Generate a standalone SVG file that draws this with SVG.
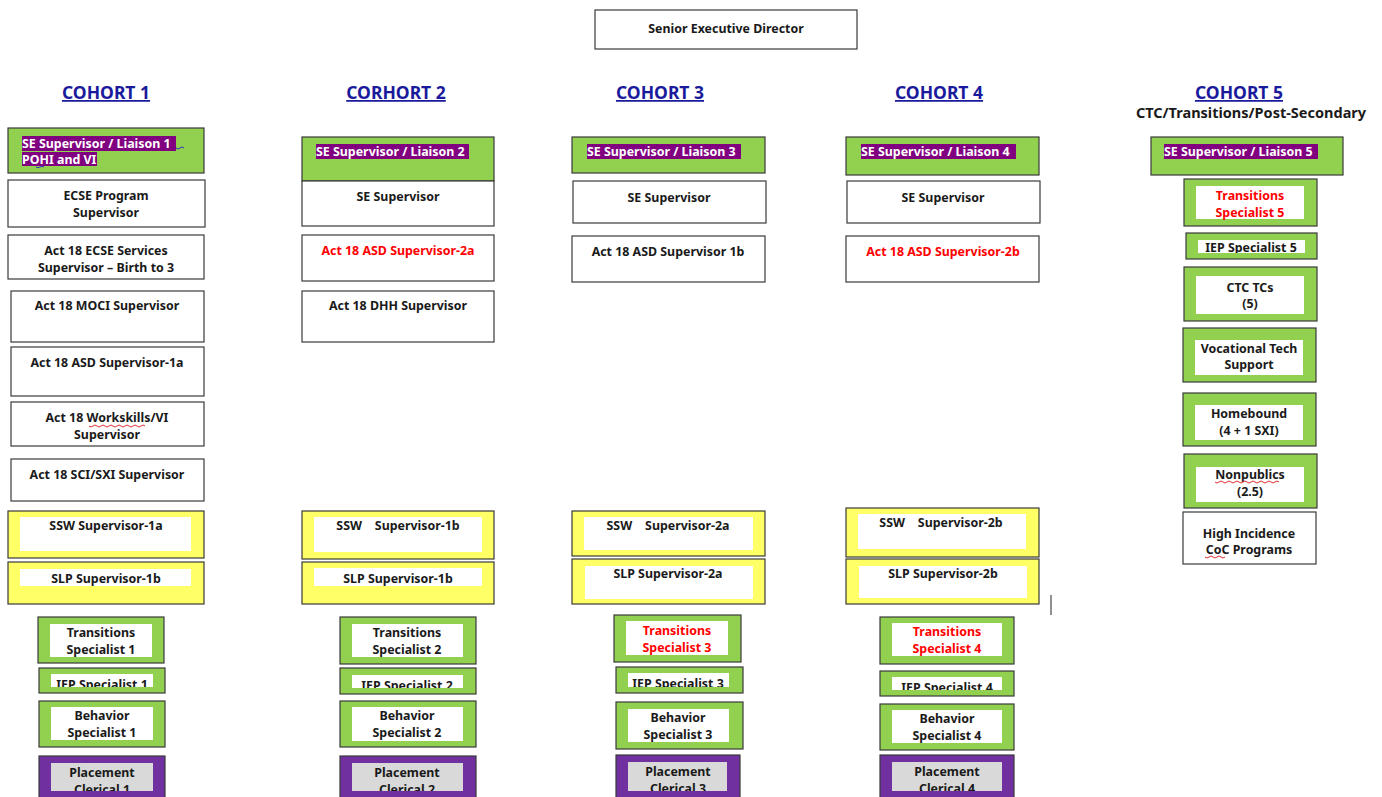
<svg xmlns="http://www.w3.org/2000/svg" width="1382" height="797" viewBox="0 0 1382 797">
<style>
text{font-family:"Noto Sans","Open Sans","Liberation Sans",sans-serif;font-weight:bold;font-size:12.4px;fill:#1a1a1a}
.c{text-anchor:middle}
.red{fill:#ff0000}
.hl{fill:#ffffff}
.hd{font-size:17.5px;fill:#1a1a9c;text-decoration:underline}
.sub{font-size:14.5px}
.w{fill:#ffffff;stroke:#3a3a3a;stroke-width:1.2}
.g{fill:#92d050;stroke:#3a3a3a;stroke-width:1.2}
.y{fill:#ffff66;stroke:#3a3a3a;stroke-width:1.2}
.p{fill:#7030a0;stroke:#3a3a3a;stroke-width:1.2}
.in{fill:#ffffff}
.gr{fill:#d9d9d9}
.pu{fill:#800080}
.sq{fill:none;stroke-width:1}
</style>
<defs>
<clipPath id="k1"><rect x="51" y="674" width="102" height="13"/></clipPath>
<clipPath id="k2"><rect x="352" y="675" width="111" height="13"/></clipPath>
<clipPath id="k3"><rect x="628" y="673" width="101" height="14"/></clipPath>
<clipPath id="k4"><rect x="892" y="677" width="110" height="13"/></clipPath>
<clipPath id="k5"><rect x="1198" y="240" width="107" height="13"/></clipPath>
<clipPath id="m1"><rect x="51" y="763" width="102" height="28"/></clipPath>
<clipPath id="m2"><rect x="352" y="763" width="111" height="28"/></clipPath>
<clipPath id="m3"><rect x="628" y="762" width="99" height="29"/></clipPath>
<clipPath id="m4"><rect x="892" y="762" width="110" height="29"/></clipPath>
</defs>
<rect width="1382" height="797" fill="#ffffff"/>

<g id="director">
<rect class="w" x="595" y="10" width="262" height="39"/>
<text class="c" x="726" y="33">Senior Executive Director</text>
</g>

<g id="headers">
<text class="hd c" x="106" y="99">COHORT 1</text>
<text class="hd c" x="396" y="99">CORHORT 2</text>
<text class="hd c" x="660" y="99">COHORT 3</text>
<text class="hd c" x="939" y="99">COHORT 4</text>
<text class="hd c" x="1239" y="99">COHORT 5</text>
<text class="sub c" x="1251" y="118">CTC/Transitions/Post-Secondary</text>
</g>

<!-- Cohort 1 -->
<g id="c1-liaison">
<rect class="g" x="8" y="128" width="196" height="45"/>
<rect class="pu" x="22" y="136" width="154" height="15"/>
<rect class="pu" x="22" y="152" width="75" height="14"/>
<text class="hl" x="22" y="148">SE Supervisor / Liaison 1</text>
<text class="hl" x="22" y="164">POHI and VI</text>
<path class="sq" stroke="#3030c0" d="M176 148 q2 2 4 0 q2 -2 4 0"/>
<path class="sq" stroke="#3030c0" d="M36 167 q2 1.5 4 0 q2 -1.5 4 0"/>
</g>
<g id="c1-ecse">
<rect class="w" x="8" y="180" width="197" height="47"/>
<text class="c" x="106" y="200">ECSE Program</text>
<text class="c" x="106" y="217">Supervisor</text>
</g>
<g id="c1-act18-ecse">
<rect class="w" x="8" y="235" width="196" height="44"/>
<text class="c" x="106" y="255">Act 18 ECSE Services</text>
<text class="c" x="106" y="272">Supervisor – Birth to 3</text>
</g>
<g id="c1-moci">
<rect class="w" x="11" y="291" width="193" height="51"/>
<text class="c" x="107" y="310">Act 18 MOCI Supervisor</text>
</g>
<g id="c1-asd">
<rect class="w" x="11" y="347" width="193" height="49"/>
<text class="c" x="107" y="367">Act 18 ASD Supervisor-1a</text>
</g>
<g id="c1-workskills">
<rect class="w" x="11" y="402" width="193" height="44"/>
<text class="c" x="107" y="422">Act 18 Workskills/VI</text>
<text class="c" x="107" y="439">Supervisor</text>
<path class="sq" stroke="#e03030" d="M89 426 q2 2 4 0 q2 -2 4 0 q2 2 4 0 q2 -2 4 0 q2 2 4 0 q2 -2 4 0 q2 2 4 0 q2 -2 4 0 q2 2 4 0 q2 -2 4 0 q2 2 4 0 q2 -2 4 0 q2 2 4 0 q2 -2 4 0"/>
</g>
<g id="c1-sci">
<rect class="w" x="11" y="459" width="193" height="42"/>
<text class="c" x="107" y="479">Act 18 SCI/SXI Supervisor</text>
</g>
<g id="c1-ssw">
<rect class="y" x="8" y="511" width="196" height="47"/>
<rect class="in" x="20" y="517" width="171" height="34"/>
<text class="c" x="106" y="530">SSW Supervisor-1a</text>
</g>
<g id="c1-slp">
<rect class="y" x="8" y="562" width="196" height="42"/>
<rect class="in" x="20" y="569" width="171" height="17"/>
<text class="c" x="106" y="583">SLP Supervisor-1b</text>
</g>
<g id="c1-trans">
<rect class="g" x="38" y="617" width="126" height="46"/>
<rect class="in" x="50" y="624" width="102" height="33"/>
<text class="c" x="101" y="637">Transitions</text>
<text class="c" x="101" y="654">Specialist 1</text>
</g>
<g id="c1-iep">
<rect class="g" x="39" y="668" width="126" height="25"/>
<rect class="in" x="51" y="674" width="102" height="13"/>
<text class="c" x="102" y="689" clip-path="url(#k1)">IEP Specialist 1</text>
</g>
<g id="c1-beh">
<rect class="g" x="39" y="701" width="126" height="46"/>
<rect class="in" x="51" y="707" width="102" height="33"/>
<text class="c" x="102" y="720">Behavior</text>
<text class="c" x="102" y="737">Specialist 1</text>
</g>
<g id="c1-place">
<rect class="p" x="39" y="756" width="126" height="46"/>
<rect class="gr" x="51" y="763" width="102" height="28"/>
<text class="c" x="102" y="777" clip-path="url(#m1)">Placement</text>
<text class="c" x="102" y="794" clip-path="url(#m1)">Clerical 1</text>
</g>

<!-- Cohort 2 -->
<g id="c2-liaison">
<rect class="g" x="302" y="137" width="192" height="44"/>
<rect class="pu" x="316" y="144" width="153" height="15"/>
<text class="hl" x="316" y="156">SE Supervisor / Liaison 2</text>
</g>
<g id="c2-se">
<rect class="w" x="302" y="181" width="192" height="45"/>
<text class="c" x="398" y="201">SE Supervisor</text>
</g>
<g id="c2-asd">
<rect class="w" x="302" y="235" width="192" height="46"/>
<text class="c red" x="398" y="255">Act 18 ASD Supervisor-2a</text>
</g>
<g id="c2-dhh">
<rect class="w" x="302" y="291" width="192" height="51"/>
<text class="c" x="398" y="310">Act 18 DHH Supervisor</text>
</g>
<g id="c2-ssw">
<rect class="y" x="302" y="511" width="192" height="48"/>
<rect class="in" x="314" y="517" width="168" height="35"/>
<text class="c" x="398" y="530" xml:space="preserve">SSW    Supervisor-1b</text>
</g>
<g id="c2-slp">
<rect class="y" x="302" y="562" width="192" height="42"/>
<rect class="in" x="314" y="568" width="168" height="18"/>
<text class="c" x="398" y="583">SLP Supervisor-1b</text>
</g>
<g id="c2-trans">
<rect class="g" x="340" y="617" width="136" height="47"/>
<rect class="in" x="352" y="624" width="111" height="33"/>
<text class="c" x="407" y="637">Transitions</text>
<text class="c" x="407" y="654">Specialist 2</text>
</g>
<g id="c2-iep">
<rect class="g" x="340" y="668" width="136" height="26"/>
<rect class="in" x="352" y="675" width="111" height="13"/>
<text class="c" x="407" y="690" clip-path="url(#k2)">IEP Specialist 2</text>
</g>
<g id="c2-beh">
<rect class="g" x="340" y="701" width="136" height="46"/>
<rect class="in" x="352" y="707" width="111" height="34"/>
<text class="c" x="407" y="720">Behavior</text>
<text class="c" x="407" y="737">Specialist 2</text>
</g>
<g id="c2-place">
<rect class="p" x="340" y="756" width="136" height="46"/>
<rect class="gr" x="352" y="763" width="111" height="28"/>
<text class="c" x="407" y="777" clip-path="url(#m2)">Placement</text>
<text class="c" x="407" y="794" clip-path="url(#m2)">Clerical 2</text>
</g>

<!-- Cohort 3 -->
<g id="c3-liaison">
<rect class="g" x="572" y="137" width="193" height="36"/>
<rect class="pu" x="587" y="144" width="154" height="15"/>
<text class="hl" x="587" y="156">SE Supervisor / Liaison 3</text>
</g>
<g id="c3-se">
<rect class="w" x="573" y="181" width="193" height="42"/>
<text class="c" x="669" y="202">SE Supervisor</text>
</g>
<g id="c3-asd">
<rect class="w" x="572" y="236" width="193" height="46"/>
<text class="c" x="668" y="256">Act 18 ASD Supervisor 1b</text>
</g>
<g id="c3-ssw">
<rect class="y" x="572" y="511" width="193" height="45"/>
<rect class="in" x="584" y="517" width="169" height="33"/>
<text class="c" x="668" y="530" xml:space="preserve">SSW    Supervisor-2a</text>
</g>
<g id="c3-slp">
<rect class="y" x="572" y="559" width="193" height="45"/>
<rect class="in" x="585" y="566" width="168" height="33"/>
<text class="c" x="668" y="578">SLP Supervisor-2a</text>
</g>
<g id="c3-trans">
<rect class="g" x="614" y="615" width="127" height="47"/>
<rect class="in" x="626" y="621" width="102" height="34"/>
<text class="c red" x="677" y="635">Transitions</text>
<text class="c red" x="677" y="652">Specialist 3</text>
</g>
<g id="c3-iep">
<rect class="g" x="616" y="667" width="127" height="26"/>
<rect class="in" x="628" y="673" width="101" height="14"/>
<text class="c" x="678" y="688" clip-path="url(#k3)">IEP Specialist 3</text>
</g>
<g id="c3-beh">
<rect class="g" x="616" y="702" width="127" height="47"/>
<rect class="in" x="628" y="709" width="101" height="33"/>
<text class="c" x="678" y="722">Behavior</text>
<text class="c" x="678" y="739">Specialist 3</text>
</g>
<g id="c3-place">
<rect class="p" x="616" y="755" width="124" height="46"/>
<rect class="gr" x="628" y="762" width="99" height="29"/>
<text class="c" x="678" y="776" clip-path="url(#m3)">Placement</text>
<text class="c" x="678" y="793" clip-path="url(#m3)">Clerical 3</text>
</g>

<!-- Cohort 4 -->
<g id="c4-liaison">
<rect class="g" x="846" y="137" width="193" height="38"/>
<rect class="pu" x="861" y="144" width="155" height="15"/>
<text class="hl" x="861" y="156">SE Supervisor / Liaison 4</text>
</g>
<g id="c4-se">
<rect class="w" x="847" y="181" width="193" height="42"/>
<text class="c" x="943" y="202">SE Supervisor</text>
</g>
<g id="c4-asd">
<rect class="w" x="846" y="236" width="193" height="46"/>
<text class="c red" x="943" y="256">Act 18 ASD Supervisor-2b</text>
</g>
<g id="c4-ssw">
<rect class="y" x="846" y="508" width="193" height="49"/>
<rect class="in" x="858" y="514" width="168" height="35"/>
<text class="c" x="941" y="527" xml:space="preserve">SSW    Supervisor-2b</text>
</g>
<g id="c4-slp">
<rect class="y" x="846" y="559" width="193" height="45"/>
<rect class="in" x="859" y="566" width="168" height="32"/>
<text class="c" x="943" y="578">SLP Supervisor-2b</text>
</g>
<line x1="1051" y1="595" x2="1051" y2="615" stroke="#222" stroke-width="1"/>
<g id="c4-trans">
<rect class="g" x="880" y="617" width="134" height="47"/>
<rect class="in" x="892" y="623" width="110" height="33"/>
<text class="c red" x="947" y="636">Transitions</text>
<text class="c red" x="947" y="653">Specialist 4</text>
</g>
<g id="c4-iep">
<rect class="g" x="880" y="671" width="134" height="25"/>
<rect class="in" x="892" y="677" width="110" height="13"/>
<text class="c" x="947" y="692" clip-path="url(#k4)">IEP Specialist 4</text>
</g>
<g id="c4-beh">
<rect class="g" x="880" y="704" width="134" height="46"/>
<rect class="in" x="892" y="710" width="110" height="33"/>
<text class="c" x="947" y="723">Behavior</text>
<text class="c" x="947" y="740">Specialist 4</text>
</g>
<g id="c4-place">
<rect class="p" x="880" y="755" width="134" height="46"/>
<rect class="gr" x="892" y="762" width="110" height="29"/>
<text class="c" x="947" y="776" clip-path="url(#m4)">Placement</text>
<text class="c" x="947" y="793" clip-path="url(#m4)">Clerical 4</text>
</g>

<!-- Cohort 5 -->
<g id="c5-liaison">
<rect class="g" x="1151" y="137" width="192" height="38"/>
<rect class="pu" x="1164" y="144" width="154" height="15"/>
<text class="hl" x="1164" y="156">SE Supervisor / Liaison 5</text>
</g>
<g id="c5-trans">
<rect class="g" x="1184" y="179" width="133" height="47"/>
<rect class="in" x="1196" y="186" width="108" height="33"/>
<text class="c red" x="1250" y="200">Transitions</text>
<text class="c red" x="1250" y="217">Specialist 5</text>
</g>
<g id="c5-iep">
<rect class="g" x="1186" y="233" width="131" height="26"/>
<rect class="in" x="1198" y="240" width="107" height="13"/>
<text class="c" x="1251" y="252" clip-path="url(#k5)">IEP Specialist 5</text>
</g>
<g id="c5-ctc">
<rect class="g" x="1184" y="267" width="133" height="54"/>
<rect class="in" x="1196" y="276" width="108" height="38"/>
<text class="c" x="1250" y="292">CTC TCs</text>
<text class="c" x="1250" y="308">(5)</text>
</g>
<g id="c5-voc">
<rect class="g" x="1183" y="328" width="133" height="54"/>
<rect class="in" x="1195" y="340" width="108" height="35"/>
<text class="c" x="1249" y="353">Vocational Tech</text>
<text class="c" x="1249" y="369">Support</text>
</g>
<g id="c5-home">
<rect class="g" x="1183" y="393" width="133" height="53"/>
<rect class="in" x="1195" y="405" width="108" height="35"/>
<text class="c" x="1249" y="418">Homebound</text>
<text class="c" x="1249" y="435">(4 + 1 SXI)</text>
</g>
<g id="c5-nonpub">
<rect class="g" x="1184" y="454" width="133" height="54"/>
<rect class="in" x="1196" y="467" width="108" height="35"/>
<text class="c" x="1250" y="479">Nonpublics</text>
<text class="c" x="1250" y="496">(2.5)</text>
<path class="sq" stroke="#e03030" d="M1215 482 q2 2 4 0 q2 -2 4 0 q2 2 4 0 q2 -2 4 0 q2 2 4 0 q2 -2 4 0 q2 2 4 0 q2 -2 4 0 q2 2 4 0 q2 -2 4 0 q2 2 4 0 q2 -2 4 0 q2 2 4 0 q2 -2 4 0 q2 2 4 0 q2 -2 4 0"/>
</g>
<g id="c5-high">
<rect class="w" x="1183" y="512" width="133" height="52"/>
<text class="c" x="1249" y="538">High Incidence</text>
<text class="c" x="1249" y="554">CoC Programs</text>
<path class="sq" stroke="#e03030" d="M1205 557 q2 2 4 0 q2 -2 4 0 q2 2 4 0 q2 -2 4 0 q2 2 4 0"/>
</g>
</svg>
